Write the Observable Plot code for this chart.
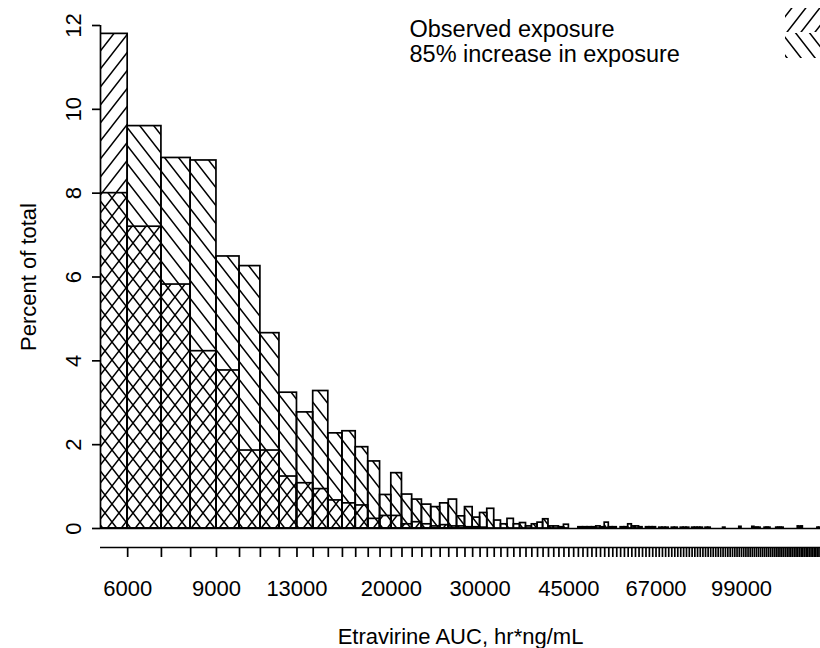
<!DOCTYPE html>
<html>
<head>
<meta charset="utf-8">
<script src="https://cdn.jsdelivr.net/npm/d3@7"></script>
<script src="https://cdn.jsdelivr.net/npm/@observablehq/plot@0.6"></script>
<style>
  body { margin: 0; background: #fff; }
  svg { display: block; }
</style>
</head>
<body>
<div id="chart"></div>
<script>
// Histogram bins: width 1000 hr*ng/mL, first bin starts at 5000
const binStart = 5000;
const binWidth = 1000;

// Percent of total per bin, observed exposures
const observed = [
  11.8, 7.2, 5.82, 4.23, 3.77, 1.86, 1.86, 1.24, 1.08, 0.94,
  0.67, 0.60, 0.55, 0.23, 0.30, 0.30, 0.10, 0.15, 0.10, 0.05,
  0.08, 0.05, 0.05, 0.03, 0.03, 0.02
];

// Percent of total per bin, exposures increased by 85%
const increased = [
  8.0, 9.6, 8.84, 8.78, 6.49, 6.26, 4.66, 3.24, 2.77, 3.28,
  2.27, 2.32, 1.94, 1.60, 0.80, 1.32, 0.81, 0.69, 0.57, 0.51,
  0.60, 0.69, 0.29, 0.51, 0.26, 0.37, 0.47, 0.19, 0.10, 0.23,
  0.10, 0.13, 0.05, 0.10, 0.14, 0.22, 0.05, 0.05, 0.03, 0.09,
  0, 0, 0.03, 0.03, 0.03, 0.03, 0.05, 0.03, 0.14, 0.03,
  0.03, 0, 0.03, 0.03, 0.10, 0.05, 0.05, 0.03, 0, 0.03,
  0.03, 0.03, 0, 0.02, 0.02, 0.02, 0, 0.02, 0.02, 0,
  0.02, 0.02, 0.02, 0, 0.02, 0.02, 0.02, 0.02, 0, 0.02,
  0.02, 0, 0, 0, 0, 0, 0.02, 0, 0, 0,
  0, 0, 0, 0.04, 0, 0, 0, 0, 0, 0.04,
  0.02, 0.02, 0.02, 0, 0, 0.02, 0.02, 0.02, 0, 0,
  0, 0.02, 0.02, 0.02, 0.02, 0, 0, 0, 0, 0,
  0, 0, 0, 0.05, 0.03, 0.05, 0, 0, 0, 0,
  0, 0, 0, 0, 0, 0.02, 0.02
];

const seriesNames = ["Observed exposure", "85% increase in exposure"];
const yTicks = [0, 2, 4, 6, 8, 10, 12];
const xTickLabels = [6000, 9000, 13000, 20000, 30000, 45000, 67000, 99000];
const xTitle = "Etravirine AUC, hr*ng/mL";
const yTitle = "Percent of total";

const xDomain = [5300, 142000];

const bins = increased.map((v, i) => ({
  lo: binStart + i * binWidth,
  hi: binStart + (i + 1) * binWidth,
  increased: v,
  observed: observed[i] ?? 0
}));

// minor ticks on the lower axis strip sit at every bin edge
const binEdges = d3.range(binStart + binWidth, xDomain[1] + binWidth, binWidth);

const font = "'Liberation Sans', Arial, Helvetica, sans-serif";
const ink = "#000";

const svg = Plot.plot({
  width: 820,
  height: 648,
  marginLeft: 100,
  marginRight: 0,
  marginTop: 25,
  marginBottom: 120,
  style: { fontFamily: font, fontSize: "22px", color: ink, background: "#fff" },
  x: { type: "log", domain: xDomain },
  y: { domain: [0, 12] },
  marks: [
    Plot.rectY(bins.filter(d => d.increased > 0), {
      x1: "lo", x2: "hi", y: "increased", inset: 0,
      fill: "url(#hatch-back)", stroke: ink, strokeWidth: 1.7, clip: true
    }),
    Plot.rectY(bins.filter(d => d.observed > 0), {
      x1: "lo", x2: "hi", y: "observed", inset: 0,
      fill: "url(#hatch-fwd)", stroke: ink, strokeWidth: 1.7, clip: true
    }),
    Plot.ruleY([0], { stroke: ink, strokeWidth: 1.7 }),
    // y axis
    Plot.ruleX([xDomain[0]], { y1: yTicks[0], y2: yTicks[yTicks.length - 1], stroke: ink, strokeWidth: 1.7 }),
    Plot.axisY(yTicks, { tickSize: 8, tickRotate: -90, tickPadding: 12, fontSize: 22, strokeWidth: 1.7 }),
    Plot.text([yTitle], {
      frameAnchor: "left", textAnchor: "middle", rotate: -90, lineAnchor: "bottom",
      dx: -65, fontSize: 22, fill: ink
    }),
    // x axis strip below the bars
    Plot.ruleY([0], { dy: 19, stroke: ink, strokeWidth: 1.7 }),
    Plot.axisX(binEdges, { tickSize: 10, text: null, dy: 19, strokeWidth: 1.7 }),
    Plot.text(xTickLabels, {
      x: d => d, frameAnchor: "bottom", lineAnchor: "top", dy: 52,
      text: d => String(d), fontSize: 22, fill: ink
    }),
    Plot.text([xTitle], { frameAnchor: "bottom", lineAnchor: "top", dy: 100, fontSize: 22, fill: ink }),
    // legend labels
    Plot.text([seriesNames[0]], { frameAnchor: "top-left", textAnchor: "start", lineAnchor: "top", dx: 309, dy: -5, fontSize: 23.5, fill: ink }),
    Plot.text([seriesNames[1]], { frameAnchor: "top-left", textAnchor: "start", lineAnchor: "top", dx: 309, dy: 20, fontSize: 23.5, fill: ink })
  ]
});

// hatch fills: "/" for observed, "\" for the increased series
const W = 14, H = 18;
const defs = d3.select(svg).insert("defs", ":first-child");
function hatch(id, forward) {
  const d = forward
    ? `M0,${H}L${W},0M${-W / 4},${H / 4}L${W / 4},${-H / 4}M${W * 3 / 4},${H * 5 / 4}L${W * 5 / 4},${H * 3 / 4}`
    : `M0,0L${W},${H}M${-W / 4},${H * 3 / 4}L${W / 4},${H * 5 / 4}M${W * 3 / 4},${-H / 4}L${W * 5 / 4},${H / 4}`;
  defs.append("pattern")
    .attr("id", id)
    .attr("patternUnits", "userSpaceOnUse")
    .attr("width", W)
    .attr("height", H)
    .append("path")
    .attr("d", d)
    .attr("fill", "none")
    .attr("stroke", ink)
    .attr("stroke-width", 1.5);
}
hatch("hatch-fwd", true);
hatch("hatch-back", false);

// legend keys at the right edge
const keys = d3.select(svg).append("g").attr("aria-label", "legend keys");
keys.append("rect").attr("x", 785).attr("y", 8).attr("width", 50).attr("height", 24).attr("fill", "url(#hatch-fwd)");
keys.append("rect").attr("x", 785).attr("y", 33).attr("width", 50).attr("height", 25).attr("fill", "url(#hatch-back)");

document.getElementById("chart").appendChild(svg);
</script>
</body>
</html>
